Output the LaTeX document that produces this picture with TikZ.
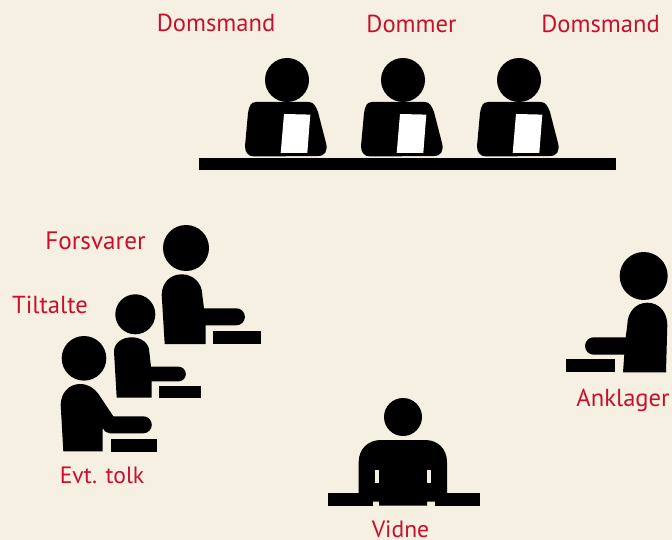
\documentclass[tikz,border=0pt]{standalone}
\usepackage{fontspec}
\setmainfont{PT Sans}
\definecolor{bgc}{HTML}{F5F0E1}
\definecolor{lab}{HTML}{C8102E}
\tikzset{
  x=1pt,y=-1pt,
  sil/.style={fill=black,draw=none},
  paper/.style={fill=white,draw=none},
  lbl/.style={text=lab,font=\fontsize{24.6}{27}\selectfont,inner sep=0pt,anchor=base},
  lblsmall/.style={lbl,font=\fontsize{23.6}{27}\selectfont},
  lblwide/.style={lbl,font=\fontsize{25.2}{27}\selectfont}
}
\newcommand{\judge}[1]{%
  \begin{scope}[xshift=#1pt]
    \fill[sil] (287,80) circle[radius=22];
    \fill[sil] (256,102) -- (309,102) .. controls (314,102) and (316,107) .. (318,112)
      -- (326,143) .. controls (328,151) and (325,156) .. (318,156)
      -- (254,156.5) .. controls (248,156.5) and (245,152) .. (245,146)
      -- (248,113) .. controls (249,106) and (251,102) .. (256,102) -- cycle;
    \fill[paper] (284,114) -- (310.3,114.6) -- (307.3,153) -- (280.7,153) -- cycle;
  \end{scope}}
\begin{document}
\begin{tikzpicture}
\useasboundingbox (0,0) rectangle (672,540);
\fill[bgc] (0,0) rectangle (672,540);
% judges
\judge{0}\judge{116}\judge{232}
\fill[sil] (199,158) rectangle (616,170);
% Forsvarer
\fill[sil] (186,248) circle[radius=23];
\fill[sil] (164.7,344) -- (161.7,295) .. controls (161.7,283) and (170,274.3) .. (181.7,274.3)
  .. controls (193,274.3) and (202.3,283) .. (202.3,295) -- (204,308.3) -- (236.4,308.3)
  arc[start angle=-90,end angle=90,radius=8.5] -- (205.7,325.3) -- (205.7,344) -- cycle;
\fill[sil] (213,331) rectangle (261,344);
% Tiltalte
\fill[sil] (135.3,314.3) circle[radius=20];
\fill[sil] (116.7,397.7) -- (114,351.7) .. controls (114,343) and (122,337.3) .. (131.7,337.3)
  .. controls (141,337.3) and (149.3,343) .. (149.3,351.7) -- (151,366.7) -- (178.5,366.7)
  arc[start angle=-90,end angle=90,radius=7.35] -- (151.7,381.4) -- (151.7,397.7) -- cycle;
\fill[sil] (159,386) rectangle (201,397.7);
% Evt. tolk
\fill[sil] (84,358.3) circle[radius=22.3];
\fill[sil] (63.3,451.3) -- (60.7,405) .. controls (60.7,393) and (69,384) .. (80,384)
  .. controls (88,384) and (94,388) .. (98.5,394) -- (113.3,416.3) -- (143.3,416.3)
  arc[start angle=-90,end angle=90,radius=8.5] -- (110,433.3) .. controls (107,433.3) and (104.5,431.5) .. (102.7,428)
  -- (102.7,451.3) -- cycle;
\fill[sil] (111,439) rectangle (157,451.7);
% Vidne
\fill[sil] (403,417) circle[radius=19];
\fill[sil] (358.7,493) -- (358.7,462) .. controls (358.7,449) and (368,440) .. (381,440)
  -- (425,440) .. controls (438,440) and (447,449) .. (447,462) -- (447,493) -- (435,493)
  -- (435,501.7) -- (427,501.7) -- (427,505.7) -- (379,505.7) -- (379,501.7) -- (373,501.7) -- (373,493) -- cycle;
\fill[sil] (328,493) rectangle (373,505.7);
\fill[sil] (435,493) rectangle (480,505.7);
\fill[bgc] (375,470) rectangle (379,483);
\fill[bgc] (427,470) rectangle (431,483);
% Anklager
\fill[sil] (643.7,276) circle[radius=24];
\fill[sil] (666,372.3) -- (667.3,325) .. controls (667.3,312) and (659,302.7) .. (647.3,302.7)
  .. controls (636,302.7) and (627.3,312) .. (627.3,325) -- (625.7,337.3) -- (593.7,337.3)
  arc[start angle=270,end angle=90,radius=8.7] -- (624.3,354.7) -- (623,372.3) -- cycle;
\fill[sil] (566.3,359.3) rectangle (615,372.3);
% labels
\node[lbl] (l1) at (216,31.5) {Domsmand};
\node[lbl] (l2) at (411.5,33) {Dommer};
\node[lbl] (l3) at (600.5,33) {Domsmand};
\node[lblwide] (l4) at (95.5,250) {Forsvarer};
\node[lbl] (l5) at (50,313) {Tiltalte};
\node[lblsmall] (l6) at (102,483) {Evt. tolk};
\node[lbl] (l7) at (623,406) {Anklager};
\node[lblsmall] (l8) at (400.5,537) {Vidne};
\end{tikzpicture}
\end{document}
